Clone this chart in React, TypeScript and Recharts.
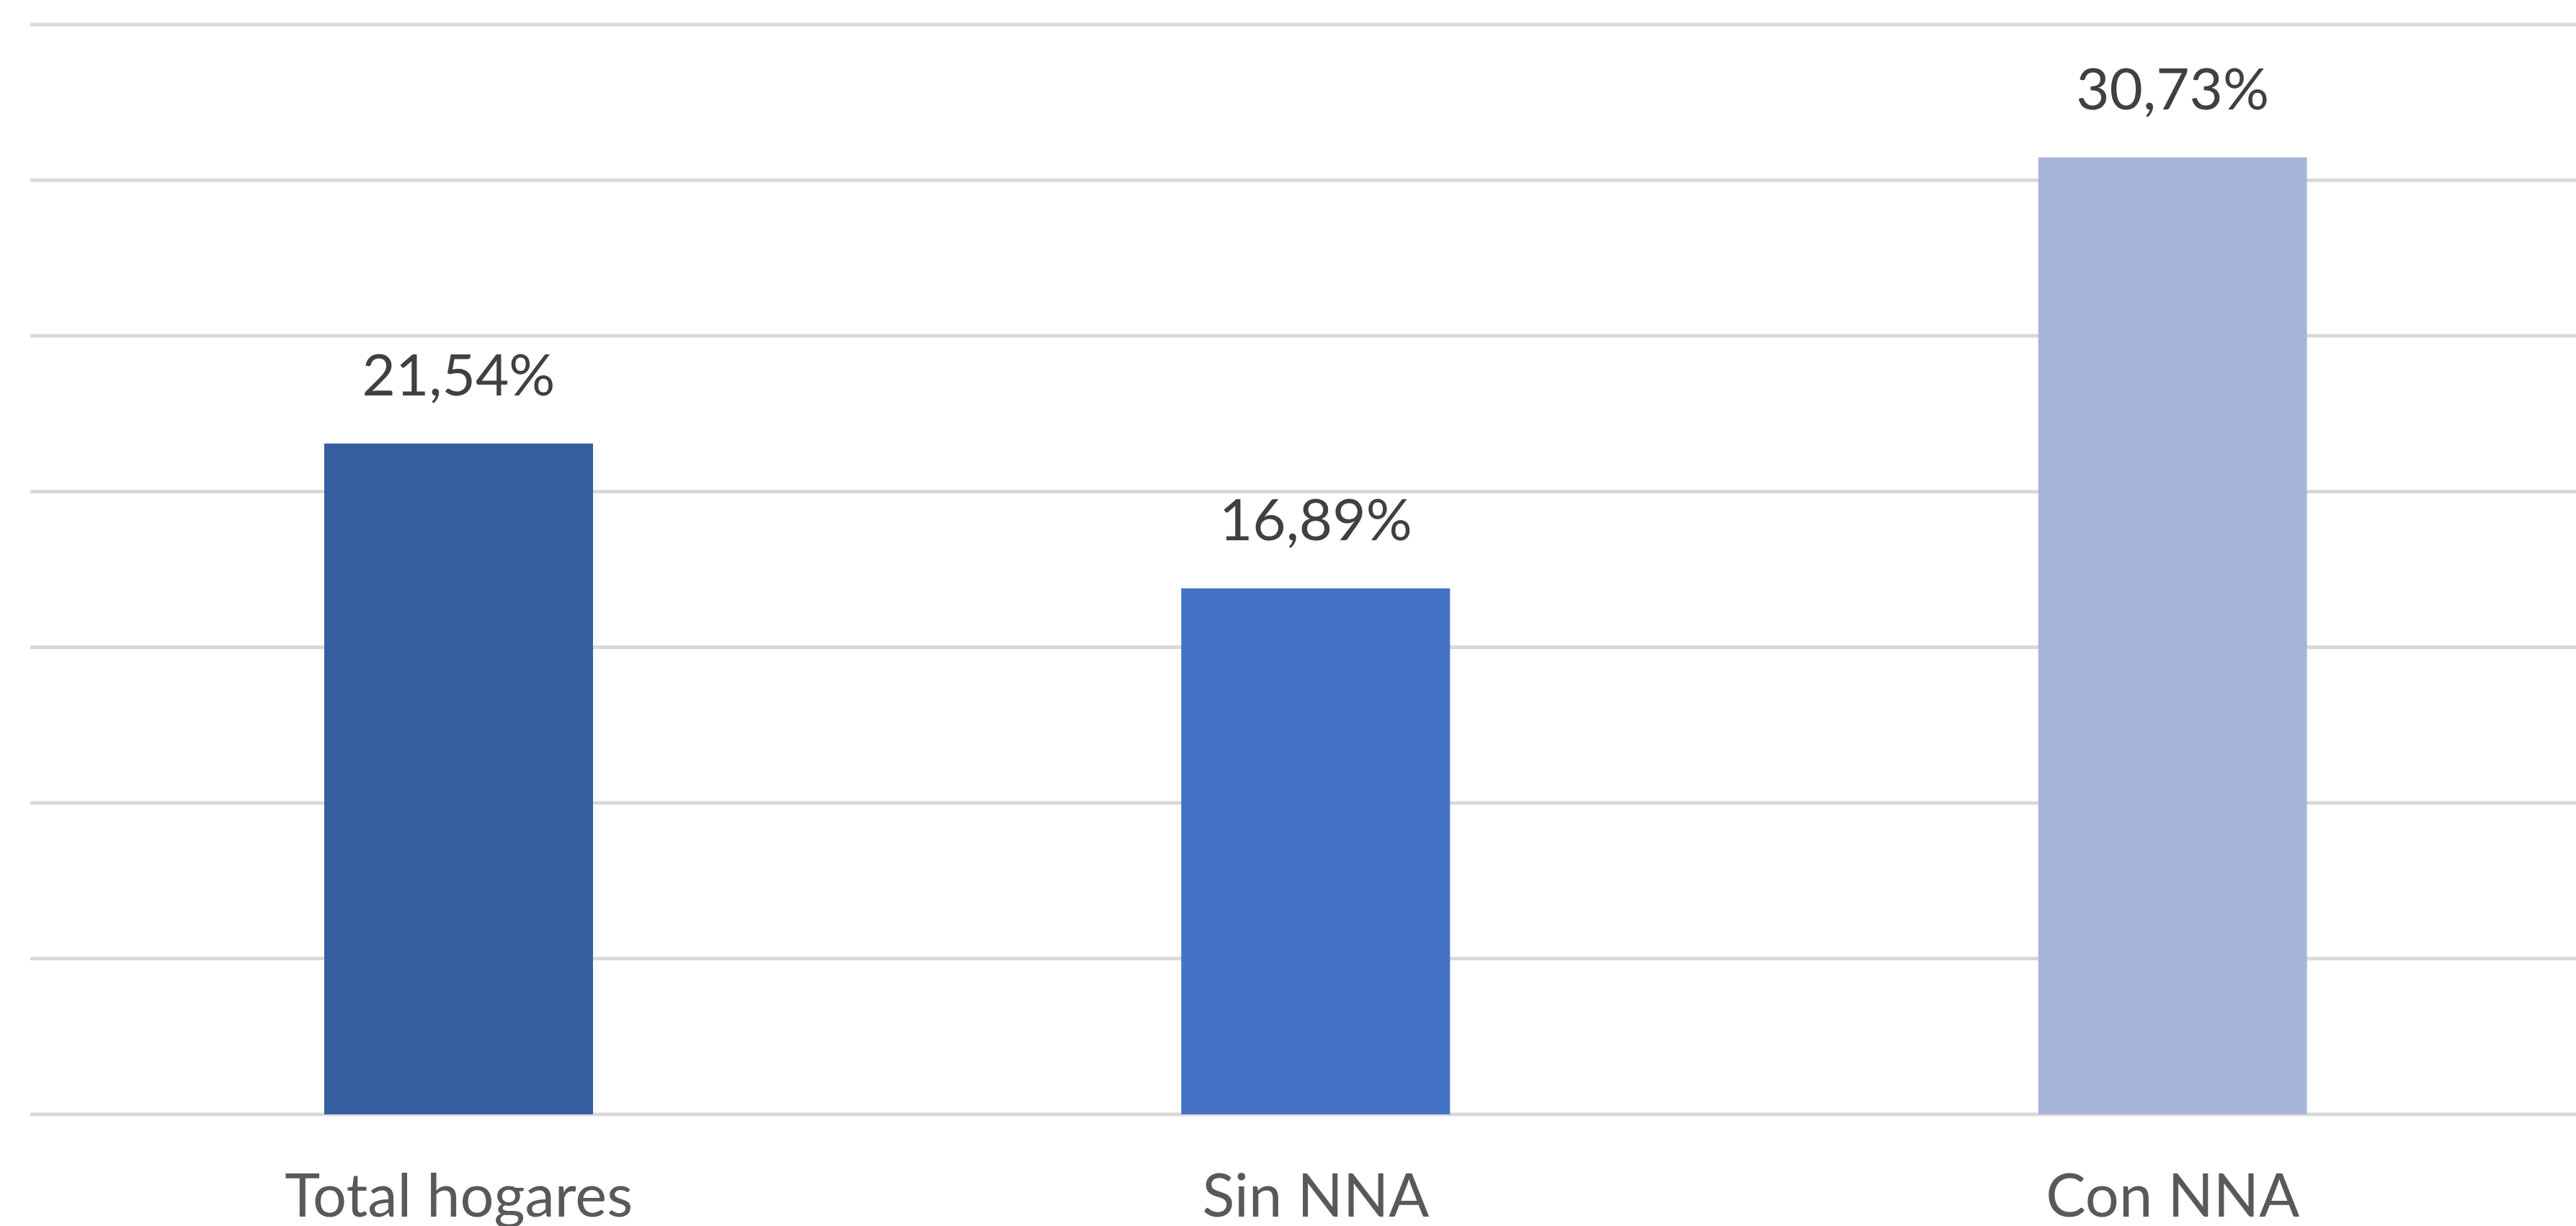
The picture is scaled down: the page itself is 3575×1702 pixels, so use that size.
import { BarChart, Bar, XAxis, YAxis, CartesianGrid, Cell, LabelList } from 'recharts'

const categories = ['Total hogares', 'Sin NNA', 'Con NNA']
const values = [21.54, 16.89, 30.73]
const barColors = ['#365EA1', '#4472C4', '#A7B5D9']
const yTicks = [0, 5, 10, 15, 20, 25, 30, 35]

const data = categories.map((name, i) => ({ name, value: values[i] }))

const fmt = (v: number) => v.toFixed(2).replace('.', ',') + '%'

function CategoryTick({ x, y, payload }: any) {
  return (
    <text
      x={x}
      y={y + 140}
      textAnchor="middle"
      fill="#595959"
      fontSize={83}
      fontFamily="Lato, 'Open Sans', sans-serif"
    >
      {payload.value}
    </text>
  )
}

export default function App() {
  return (
    <div
      style={{
        position: 'absolute',
        left: 0,
        top: 0,
        width: 3575,
        height: 1702,
        overflow: 'hidden',
        background: '#fff',
      }}
    >
      <BarChart
        width={3610}
        height={1702}
        data={data}
        margin={{ top: 34, right: 0, bottom: 0, left: 42 }}
      >
        <CartesianGrid vertical={false} stroke="#d9d9d9" strokeWidth={5} />
        <XAxis
          dataKey="name"
          height={155}
          axisLine={false}
          tickLine={false}
          tickSize={0}
          tick={<CategoryTick />}
          interval={0}
        />
        <YAxis hide domain={[0, 35]} ticks={yTicks} />
        <Bar dataKey="value" barSize={373} isAnimationActive={false}>
          {data.map((d, i) => (
            <Cell key={d.name} fill={barColors[i]} />
          ))}
          <LabelList
            dataKey="value"
            position="top"
            offset={67}
            formatter={(v: any) => fmt(Number(v))}
            fill="#404040"
            fontSize={80}
            fontFamily="Lato, 'Open Sans', sans-serif"
          />
        </Bar>
      </BarChart>
    </div>
  )
}
